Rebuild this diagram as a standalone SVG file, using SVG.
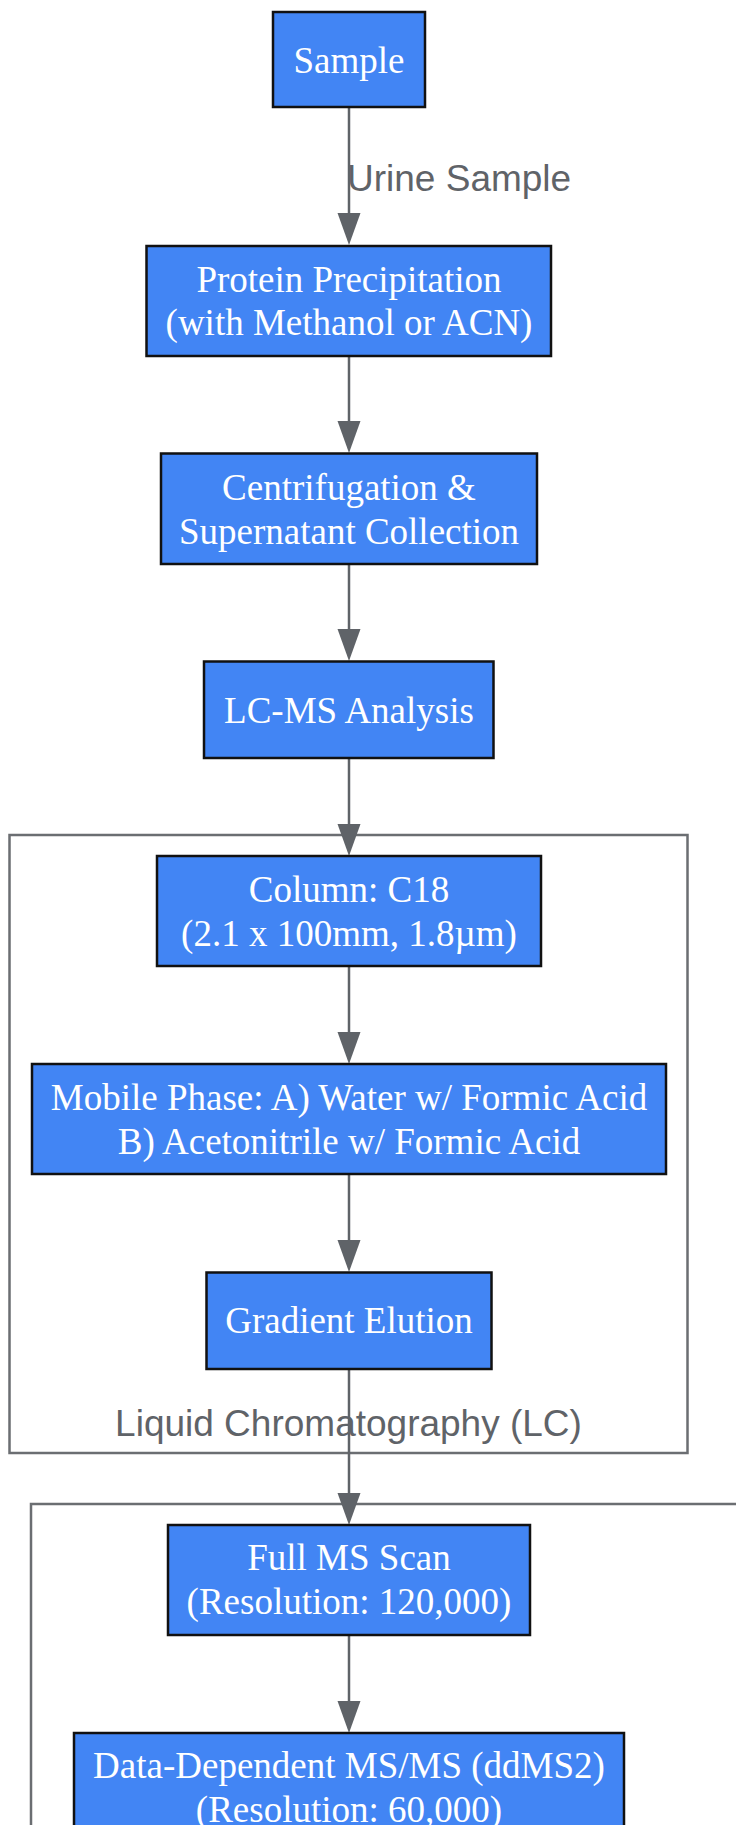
<svg xmlns="http://www.w3.org/2000/svg" width="736" height="1825" viewBox="0 0 736 1825">
<style>
.node rect{fill:#4285f4;stroke:#111;stroke-width:2.5}
.node text{font-family:"Liberation Serif","Times New Roman",serif;font-size:37px;fill:#fff;text-anchor:middle}
.cluster rect{fill:none;stroke:#6b6e72;stroke-width:2.5}
.lbl{font-family:"Liberation Sans",Arial,sans-serif;font-size:37px;fill:#5f6368}
.edge{stroke:#5f6368;stroke-width:2.5;fill:none}
</style>
<defs>
<marker id="arr" markerUnits="userSpaceOnUse" markerWidth="24" markerHeight="33" refX="11.5" refY="32" orient="auto-start-reverse" viewBox="0 0 23 32">
<path d="M0,0 L23,0 L11.5,32 Z" fill="#5f6368"/>
</marker>
</defs>
<rect width="736" height="1825" fill="#fff"/>
<g id="cluster-lc" class="cluster">
<rect x="9.5" y="835" width="678" height="618"/>
<text class="lbl" x="348.5" y="1436" text-anchor="middle">Liquid Chromatography (LC)</text>
</g>
<g id="cluster-ms" class="cluster">
<rect x="31" y="1504" width="760" height="400"/>
</g>
<g id="connectors">
<line class="edge" x1="349" y1="108" x2="349" y2="215"/>
<path d="M337.5,213 L360.5,213 L349,245 Z" fill="#5f6368"/>
<text class="lbl" x="347" y="191">Urine Sample</text>
<line class="edge" x1="349" y1="356" x2="349" y2="423"/>
<path d="M337.5,421 L360.5,421 L349,453 Z" fill="#5f6368"/>
<line class="edge" x1="349" y1="564" x2="349" y2="631"/>
<path d="M337.5,629 L360.5,629 L349,661 Z" fill="#5f6368"/>
<line class="edge" x1="349" y1="758" x2="349" y2="826"/>
<path d="M337.5,824 L360.5,824 L349,856 Z" fill="#5f6368"/>
<line class="edge" x1="349" y1="966" x2="349" y2="1034"/>
<path d="M337.5,1032 L360.5,1032 L349,1064 Z" fill="#5f6368"/>
<line class="edge" x1="349" y1="1174" x2="349" y2="1242"/>
<path d="M337.5,1240 L360.5,1240 L349,1272 Z" fill="#5f6368"/>
<line class="edge" x1="349" y1="1369" x2="349" y2="1495"/>
<path d="M337.5,1493 L360.5,1493 L349,1525 Z" fill="#5f6368"/>
<line class="edge" x1="349" y1="1635" x2="349" y2="1703"/>
<path d="M337.5,1701 L360.5,1701 L349,1733 Z" fill="#5f6368"/>
</g>
<g id="n-sample" class="node">
<rect x="273" y="12" width="152" height="95"/>
<text x="349" y="73">Sample</text>
</g>
<g id="n-protein" class="node">
<rect x="146.5" y="246" width="404.5" height="110"/>
<text x="349" y="291.5">Protein Precipitation</text>
<text x="349" y="335">(with Methanol or ACN)</text>
</g>
<g id="n-centrifugation" class="node">
<rect x="161" y="453.5" width="376" height="110.5"/>
<text x="349" y="500">Centrifugation &amp;</text>
<text x="349" y="544">Supernatant Collection</text>
</g>
<g id="n-lcms" class="node">
<rect x="204" y="661.5" width="289.5" height="96.5"/>
<text x="349" y="723">LC-MS Analysis</text>
</g>
<g id="n-column" class="node">
<rect x="157" y="856" width="384" height="110"/>
<text x="349" y="902">Column: C18</text>
<text x="349" y="946">(2.1 x 100mm, 1.8µm)</text>
</g>
<g id="n-mobile" class="node">
<rect x="32" y="1064" width="634" height="110"/>
<text x="349" y="1110">Mobile Phase: A) Water w/ Formic Acid</text>
<text x="349" y="1154">B) Acetonitrile w/ Formic Acid</text>
</g>
<g id="n-gradient" class="node">
<rect x="206.5" y="1272.5" width="285" height="96.5"/>
<text x="349" y="1333">Gradient Elution</text>
</g>
<g id="n-fullms" class="node">
<rect x="168" y="1525" width="362" height="110"/>
<text x="349" y="1570">Full MS Scan</text>
<text x="349" y="1614">(Resolution: 120,000)</text>
</g>
<g id="n-ddms2" class="node">
<rect x="74" y="1733" width="550" height="120"/>
<text x="349" y="1778">Data-Dependent MS/MS (ddMS2)</text>
<text x="349" y="1822">(Resolution: 60,000)</text>
</g>
</svg>
